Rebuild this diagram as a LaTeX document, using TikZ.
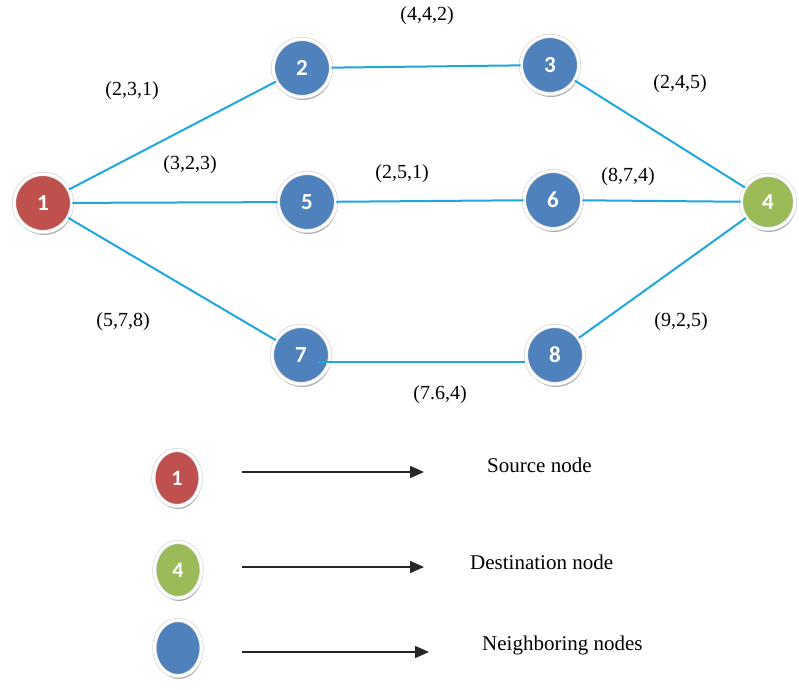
\documentclass[tikz,border=0pt]{standalone}
\usepackage{fontspec}
\setmainfont{Liberation Serif}
\newfontfamily\numfont{Carlito}
\usetikzlibrary{shadows,shapes.geometric,arrows.meta}
\definecolor{nred}{HTML}{C0504D}
\definecolor{nblue}{HTML}{4F81BD}
\definecolor{ngreen}{HTML}{9BBB59}
\definecolor{link}{HTML}{1EA6DE}
\tikzset{
  netnode/.style={circle, minimum size=58pt, inner sep=0pt, draw=black!18, line width=0.6pt,
    double=white, double distance=3pt,
    text=white, font=\numfont\bfseries\fontsize{23}{23}\selectfont,
    drop shadow={shadow xshift=1pt, shadow yshift=-3pt, fill=black!60, opacity=0.55}},
  legnode/.style={ellipse, minimum width=47pt, minimum height=56pt, inner sep=0pt, draw=black!18, line width=0.6pt,
    double=white, double distance=3pt,
    text=white, font=\numfont\bfseries\fontsize{22}{22}\selectfont,
    drop shadow={shadow xshift=1pt, shadow yshift=-3pt, fill=black!60, opacity=0.55}},
  rednode/.style={fill=nred},
  bluenode/.style={fill=nblue},
  greennode/.style={fill=ngreen},
  linkline/.style={draw=link, line width=2pt},
  wlabel/.style={font=\fontsize{20}{22}\selectfont, inner sep=0pt},
  legtext/.style={font=\fontsize{21}{24}\selectfont, anchor=west, inner sep=0pt},
  legarrow/.style={draw=black!85, line width=1.8pt, -{Triangle[length=14pt,width=12pt]}}
}
\begin{document}
\begin{tikzpicture}[x=1pt,y=-1pt]
\useasboundingbox (0,0) rectangle (799,689);
% network nodes
\node[netnode,rednode] (n1) at (43,203) {1};
\node[netnode,bluenode] (n2) at (302,68) {2};
\node[netnode,bluenode] (n3) at (550,65) {3};
\node[netnode,greennode, minimum size=54pt] (n4) at (768,202) {4};
\node[netnode,bluenode] (n5) at (307,202) {5};
\node[netnode,bluenode] (n6) at (553,200) {6};
\node[netnode,bluenode] (n7) at (301,355) {7};
\node[netnode,bluenode] (n8) at (555,355) {8};
% links
\draw[linkline] (n1) -- (n2);
\draw[linkline] (n2) -- (n3);
\draw[linkline] (n3) -- (n4);
\draw[linkline] (n1) -- (n5);
\draw[linkline] (n5) -- (n6);
\draw[linkline] (n6) -- (n4);
\draw[linkline] (n1) -- (n7);
\draw[linkline] ([xshift=17pt,yshift=-7pt]n7.center) -- ([xshift=-1pt,yshift=-7pt]n8.west);
\draw[linkline] (n8) -- (n4);
% link labels
\node[wlabel] (l23) at (427,16) {(4,4,2)};
\node[wlabel] (l12) at (132,91) {(2,3,1)};
\node[wlabel] (l34) at (680,84) {(2,4,5)};
\node[wlabel] (l15) at (190,165) {(3,2,3)};
\node[wlabel] (l56) at (402,174) {(2,5,1)};
\node[wlabel] (l64) at (628,177) {(8,7,4)};
\node[wlabel] (l17) at (123,322) {(5,7,8)};
\node[wlabel] (l84) at (681,322) {(9,2,5)};
\node[wlabel] (l78) at (440,395) {(7.6,4)};
% legend
\node[legnode,rednode] (k1) at (177,478) {1};
\node[legnode,greennode] (k2) at (178,570) {4};
\node[legnode,bluenode] (k3) at (178,648) {};
\coordinate (a1s) at (242,472);
\coordinate (a1e) at (424,472);
\coordinate (a2s) at (242,567);
\coordinate (a2e) at (424,567);
\coordinate (a3s) at (242,652);
\coordinate (a3e) at (429,652);
\draw[legarrow] (a1s) -- (a1e);
\draw[legarrow] (a2s) -- (a2e);
\draw[legarrow] (a3s) -- (a3e);
\node[legtext] (t1) at (487,465) {Source node};
\node[legtext] (t2) at (470,562) {Destination node};
\node[legtext] (t3) at (482,645) {Neighboring nodes};
\end{tikzpicture}
\end{document}
